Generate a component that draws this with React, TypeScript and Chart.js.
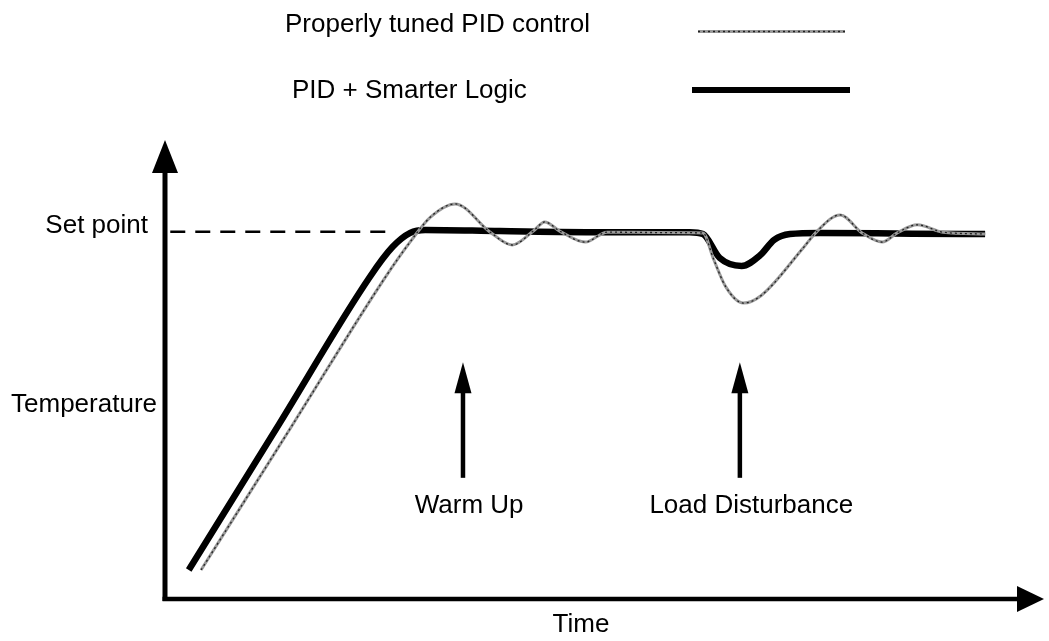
import React, { useEffect, useRef } from "react";
import { Chart, registerables } from "chart.js";

Chart.register(...registerables);

// ---- Data (time in arbitrary units 0..100, temperature with set point = 100) ----
const setpointValue = 100;
const setpointLineTime = [0.6, 26.2];

const pidTime = [4.1, 14.5, 25.0, 28.0, 30.2, 33.0, 37.0, 39.5, 41.9, 43.2, 44.9, 47.8, 50.3, 56.0, 61.2, 62.4, 63.8, 65.8, 67.8, 72.6, 74.2, 76.8, 79.3, 81.6, 83.3, 85.6, 88.5, 93.3];
const pidTemp = [7.9, 47.4, 87.4, 97.6, 104.0, 107.6, 99.9, 96.4, 100.2, 102.7, 100.2, 97.2, 99.9, 99.8, 99.7, 92.6, 85.0, 80.6, 82.6, 95.6, 100.2, 104.6, 99.7, 97.2, 99.7, 101.9, 99.9, 99.4];

const smartTime = [2.7, 13.0, 23.3, 25.9, 27.9, 29.6, 38.1, 49.5, 59.7, 61.2, 63.1, 65.6, 67.7, 69.3, 71.1, 74.5, 85.0, 93.3];
const smartTemp = [7.9, 47.7, 87.7, 95.9, 99.7, 100.5, 100.2, 99.9, 99.9, 99.4, 92.9, 90.7, 93.6, 97.8, 99.4, 99.7, 99.5, 99.4];

const seriesLabels = ["Properly tuned PID control", "PID + Smarter Logic"];
const yAxisLabel = "Temperature";
const xAxisLabel = "Time";
const setpointLabel = "Set point";

const eventLabels = ["Warm Up", "Load Disturbance"];
const eventTime = [33.9, 65.4];
const eventLabelTime = [34.6, 66.7];
const eventArrowTip = 64.5;
const eventArrowBase = 33.0;
const eventLabelTemp = 23.4;

const FONT = '26px "Liberation Sans", Arial, sans-serif';

function toXY(xs: number[], ys: number[]) {
  return xs.map((x, i) => ({ x, y: ys[i] }));
}

function drawThin(ctx: CanvasRenderingContext2D, x1: number, y1: number, x2: number, y2: number) {
  ctx.save();
  ctx.strokeStyle = "#9a9a9a";
  ctx.lineWidth = 3;
  ctx.beginPath();
  ctx.moveTo(x1, y1);
  ctx.lineTo(x2, y2);
  ctx.stroke();
  ctx.strokeStyle = "#222";
  ctx.lineWidth = 1.3;
  ctx.setLineDash([2, 3]);
  ctx.beginPath();
  ctx.moveTo(x1, y1);
  ctx.lineTo(x2, y2);
  ctx.stroke();
  ctx.restore();
}

const decorPlugin = {
  id: "decor",
  afterDraw(chart: any) {
    const ctx: CanvasRenderingContext2D = chart.ctx;
    const { left, right, top, bottom } = chart.chartArea;
    const xs = chart.scales.x;
    const ys = chart.scales.y;
    ctx.save();
    ctx.fillStyle = "#000";
    ctx.strokeStyle = "#000";

    // Y axis with arrow
    ctx.lineWidth = 5;
    ctx.beginPath();
    ctx.moveTo(left, bottom + 2);
    ctx.lineTo(left, top + 30);
    ctx.stroke();
    ctx.beginPath();
    ctx.moveTo(left, top);
    ctx.lineTo(left - 13, top + 33);
    ctx.lineTo(left + 13, top + 33);
    ctx.closePath();
    ctx.fill();

    // X axis with arrow
    ctx.lineWidth = 4.5;
    ctx.beginPath();
    ctx.moveTo(left - 2.5, bottom);
    ctx.lineTo(right - 24, bottom);
    ctx.stroke();
    ctx.beginPath();
    ctx.moveTo(right, bottom);
    ctx.lineTo(right - 27, bottom - 13);
    ctx.lineTo(right - 27, bottom + 13);
    ctx.closePath();
    ctx.fill();

    // Event arrows
    eventTime.forEach((t) => {
      const px = xs.getPixelForValue(t);
      const tip = ys.getPixelForValue(eventArrowTip);
      const base = ys.getPixelForValue(eventArrowBase);
      ctx.lineWidth = 4.5;
      ctx.beginPath();
      ctx.moveTo(px, base);
      ctx.lineTo(px, tip + 28);
      ctx.stroke();
      ctx.beginPath();
      ctx.moveTo(px, tip);
      ctx.lineTo(px - 8.5, tip + 31);
      ctx.lineTo(px + 8.5, tip + 31);
      ctx.closePath();
      ctx.fill();
    });

    // Texts
    ctx.font = FONT;
    ctx.textBaseline = "alphabetic";
    ctx.textAlign = "center";
    eventLabels.forEach((lab, i) => {
      ctx.fillText(lab, xs.getPixelForValue(eventLabelTime[i]), ys.getPixelForValue(eventLabelTemp));
    });
    ctx.fillText(xAxisLabel, 581, bottom + 33);
    ctx.textAlign = "right";
    ctx.fillText(setpointLabel, left - 17, ys.getPixelForValue(setpointValue) + 1.5);
    ctx.fillText(yAxisLabel, left - 8, 412);

    // Legend
    ctx.textAlign = "left";
    ctx.fillText(seriesLabels[0], 285, 32);
    ctx.fillText(seriesLabels[1], 292, 98);
    drawThin(ctx, 698, 31.5, 845, 31.5);
    ctx.lineWidth = 6;
    ctx.strokeStyle = "#000";
    ctx.beginPath();
    ctx.moveTo(692, 90);
    ctx.lineTo(850, 90);
    ctx.stroke();
    ctx.restore();
  },
};

export default function App() {
  const ref = useRef<HTMLCanvasElement>(null);
  useEffect(() => {
    if (!ref.current) return;
    const chart = new Chart(ref.current, {
      type: "line",
      data: {
        datasets: [
          {
            label: seriesLabels[0] + " (dots)",
            data: toXY(pidTime, pidTemp),
            borderColor: "#222",
            borderWidth: 1.3,
            borderDash: [2, 3],
            pointRadius: 0,
            cubicInterpolationMode: "monotone",
            order: 0,
          },
          {
            label: seriesLabels[0],
            data: toXY(pidTime, pidTemp),
            borderColor: "#9a9a9a",
            borderWidth: 3,
            pointRadius: 0,
            cubicInterpolationMode: "monotone",
            order: 1,
          },
          {
            label: seriesLabels[1],
            data: toXY(smartTime, smartTemp),
            borderColor: "#000",
            borderWidth: 6.5,
            pointRadius: 0,
            cubicInterpolationMode: "monotone",
            order: 2,
          },
          {
            label: setpointLabel,
            data: setpointLineTime.map((x) => ({ x, y: setpointValue })),
            borderColor: "#000",
            borderWidth: 2.5,
            borderDash: [15, 10],
            pointRadius: 0,
            order: 3,
          },
        ],
      },
      options: {
        responsive: false,
        animation: false,
        parsing: true,
        layout: { padding: { left: 165, right: 5, top: 140, bottom: 42 } },
        scales: {
          x: { type: "linear", min: 0, max: 100, display: false },
          y: { type: "linear", min: 0, max: 125, display: false },
        },
        plugins: { legend: { display: false }, tooltip: { enabled: false } },
      },
      plugins: [decorPlugin],
    } as any);
    return () => chart.destroy();
  }, []);
  return (
    <div style={{ position: "fixed", left: 0, top: 0, width: 1049, height: 641, background: "#fff" }}>
      <canvas ref={ref} width={1049} height={641} style={{ display: "block" }} />
    </div>
  );
}
